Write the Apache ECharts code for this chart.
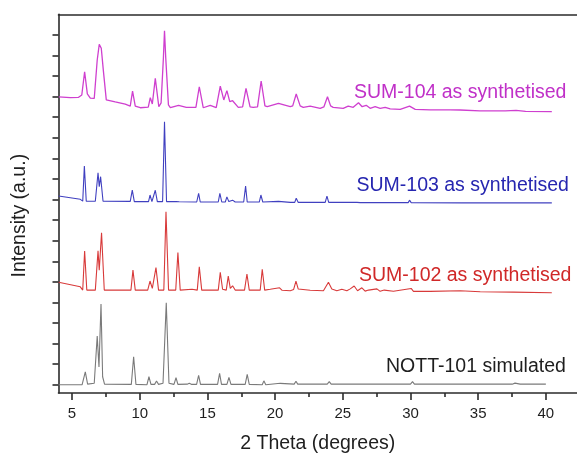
<!DOCTYPE html>
<html>
<head>
<meta charset="utf-8">
<script src="https://cdn.jsdelivr.net/npm/echarts@6/dist/echarts.min.js"></script>
<style>html,body{margin:0;padding:0;background:#fff}#c{width:577px;height:454px}</style>
</head>
<body>
<div id="c"></div>
<script>
// 2θ (degrees), offset intensity (a.u.)
var sum104 = [[4.02,13.99],[4.87,13.95],[5.46,13.96],[5.72,14.08],[5.93,15.21],[6.13,14.13],[6.35,13.93],[6.64,13.91],[6.86,15.78],[7.01,16.54],[7.16,16.35],[7.31,15.29],[7.53,13.84],[8.19,13.74],[8.93,13.64],[9.30,13.54],[9.47,14.27],[9.67,13.54],[10.04,13.46],[10.63,13.49],[10.78,13.95],[10.93,13.64],[11.15,14.89],[11.41,13.51],[11.58,13.7],[11.75,15.9],[11.83,17.20],[11.92,15.9],[12.12,13.6],[12.26,13.47],[12.87,13.58],[13.44,13.48],[14.15,13.48],[14.40,14.48],[14.69,13.46],[15.21,13.58],[15.65,13.47],[15.95,14.51],[16.21,13.84],[16.44,14.29],[16.65,13.76],[16.86,13.80],[17.28,13.48],[17.60,13.5],[17.85,14.40],[18.15,13.5],[18.38,13.48],[18.70,13.5],[18.97,14.76],[19.25,13.55],[19.42,13.51],[20.25,13.67],[21.12,13.51],[21.30,13.55],[21.56,14.13],[21.85,13.55],[22.08,13.48],[22.59,13.54],[23.33,13.43],[23.6,13.5],[23.87,13.99],[24.1,13.55],[24.29,13.48],[25.03,13.43],[25.40,13.54],[25.77,13.48],[26.16,13.70],[26.43,13.51],[26.73,13.58],[27.02,13.43],[27.39,13.51],[27.76,13.43],[28.13,13.48],[28.50,13.40],[29.24,13.38],[29.93,13.54],[30.35,13.38],[31.46,13.36],[32.93,13.36],[33.67,13.35],[35.13,13.31],[37.00,13.31],[37.80,13.33],[38.50,13.28],[40.44,13.27]];
var sum103 = [[4.01,9.17],[5.61,9.01],[5.79,8.92],[5.91,10.63],[6.05,8.92],[6.72,8.92],[6.92,10.30],[7.01,9.62],[7.11,10.11],[7.29,8.92],[9.30,8.91],[9.45,9.46],[9.60,8.90],[10.65,8.90],[10.76,9.22],[10.90,8.90],[11.04,8.90],[11.15,9.45],[11.30,8.90],[11.69,8.90],[11.83,12.78],[11.98,8.90],[12.70,8.90],[12.82,8.97],[12.92,8.89],[14.21,8.88],[14.35,9.30],[14.47,8.88],[15.80,8.88],[15.92,9.30],[16.06,8.88],[16.32,8.88],[16.44,9.13],[16.58,8.90],[16.86,8.97],[17.05,8.88],[17.68,8.88],[17.82,9.65],[17.94,8.88],[18.83,8.88],[18.95,9.22],[19.09,8.88],[20.25,8.91],[21.12,8.86],[21.45,8.86],[21.56,9.06],[21.71,8.86],[23.70,8.86],[23.83,9.17],[23.96,8.86],[26.05,8.86],[26.16,8.95],[26.28,8.85],[29.83,8.85],[29.93,8.97],[30.05,8.85],[33.80,8.84],[40.44,8.84]];
var sum102 = [[4.01,4.98],[5.61,4.76],[5.79,4.60],[5.93,6.50],[6.09,4.60],[6.72,4.60],[6.92,6.51],[7.01,5.57],[7.18,7.39],[7.38,4.60],[9.35,4.60],[9.50,5.57],[9.67,4.60],[10.59,4.60],[10.76,5.04],[10.93,4.68],[11.04,4.60],[11.20,5.69],[11.39,4.60],[11.78,4.60],[11.94,8.41],[12.13,4.60],[12.66,4.60],[12.82,6.43],[12.99,4.60],[13.86,4.64],[14.25,4.60],[14.40,5.73],[14.58,4.60],[15.80,4.60],[15.95,5.46],[16.12,4.64],[16.39,4.60],[16.54,5.28],[16.69,4.68],[16.86,4.81],[17.05,4.60],[17.74,4.60],[17.92,5.38],[18.09,4.60],[18.90,4.60],[19.05,5.61],[19.23,4.60],[19.64,4.64],[20.33,4.71],[20.52,4.59],[21.12,4.57],[21.37,4.63],[21.54,5.04],[21.71,4.65],[22.59,4.59],[23.57,4.57],[23.94,4.98],[24.19,4.65],[24.56,4.57],[24.93,4.64],[25.30,4.57],[25.55,4.66],[25.84,4.80],[26.09,4.57],[26.41,4.71],[26.65,4.55],[26.90,4.60],[27.52,4.66],[27.76,4.54],[28.06,4.60],[28.74,4.54],[30.05,4.68],[30.22,4.54],[31.45,4.54],[33.67,4.57],[35.15,4.52],[37.58,4.50],[40.44,4.47]];
var nott101 = [[4.01,0.0],[5.74,0.0],[5.98,0.63],[6.15,0.03],[6.64,0.07],[6.86,2.37],[6.99,0.87],[7.14,3.92],[7.26,0.39],[7.40,0.03],[9.38,0.02],[9.55,1.36],[9.72,0.02],[10.53,0.0],[10.68,0.39],[10.83,0.02],[11.10,0.02],[11.24,0.18],[11.39,0.02],[11.72,0.07],[11.96,3.98],[12.16,0.07],[12.53,0.02],[12.68,0.34],[12.82,0.02],[13.51,0.03],[13.66,0.07],[13.81,0.02],[14.20,0.02],[14.35,0.46],[14.49,0.02],[15.75,0.02],[15.90,0.55],[16.04,0.02],[16.44,0.02],[16.59,0.36],[16.74,0.02],[17.79,0.02],[17.94,0.50],[18.09,0.02],[19.05,0.0],[19.17,0.19],[19.31,0.0],[20.38,0.07],[21.41,0.03],[21.54,0.17],[21.67,0.03],[23.85,0.03],[24.00,0.15],[24.14,0.03],[30.00,0.03],[30.15,0.15],[30.29,0.03],[33.30,0.03],[33.42,0.10],[33.57,0.03],[37.51,0.03],[37.72,0.08],[38.10,0.03],[40.00,0.03]];

var seriesNames = ['SUM-104 as synthetised','SUM-103 as synthetised','SUM-102 as synthetised','NOTT-101 simulated'];
var xMajorTicks = [5,10,15,20,25,30,35,40];
var xMinorTicks = [7.5,12.5,17.5,22.5,27.5,32.5,37.5];
var yTicks = [0,1,2,3,4,5,6,7,8,9,10,11,12,13,14,15,16,17];

var FONT = 'Liberation Sans, Arial, sans-serif';
var axisColor = '#2b2b2b';
var chart = echarts.init(document.getElementById('c'), null, {renderer:'canvas'});
var lineColors = ['#cf3fcf','#4040c0','#d83a3a','#7a7a7a'];
var textColors = ['#c030c8','#2626b0','#d02828','#1e1e1e'];
var labelPos = [[354,92.2],[356.5,185.7],[359,275.8],[386,366.3]];

chart.setOption({
  animation:false,
  grid:{left:58.5,right:0,top:14.3,bottom:61,containLabel:false,outerBoundsMode:'none'},
  xAxis:[{
    type:'value',min:4,max:42.3,position:'bottom',
    name:'2 Theta (degrees)',nameLocation:'middle',nameGap:41,
    nameTextStyle:{fontFamily:FONT,fontSize:19.5,color:'#1e1e1e'},
    axisLine:{show:true,onZero:false,lineStyle:{color:axisColor,width:1.6}},
    axisTick:{show:true,inside:false,length:7,customValues:xMajorTicks,lineStyle:{color:axisColor,width:1.6}},
    axisLabel:{customValues:xMajorTicks,fontFamily:FONT,fontSize:15,color:'#1e1e1e',margin:13},
    splitLine:{show:false}
  },{
    type:'value',min:4,max:42.3,position:'bottom',
    axisLine:{show:false,onZero:false},
    axisTick:{show:true,inside:false,length:4,customValues:xMinorTicks,lineStyle:{color:axisColor,width:1.6}},
    axisLabel:{show:false},splitLine:{show:false}
  },{
    type:'value',min:4,max:42.3,position:'top',
    axisLine:{show:true,onZero:false,lineStyle:{color:axisColor,width:1.6}},
    axisTick:{show:false},axisLabel:{show:false},splitLine:{show:false}
  }],
  yAxis:{
    type:'value',min:-0.4,max:18,
    name:'Intensity (a.u.)',nameLocation:'middle',nameGap:29,nameRotate:90,
    nameTextStyle:{fontFamily:FONT,fontSize:19.5,color:'#1e1e1e',padding:[0,24,0,0]},
    axisLine:{show:true,onZero:false,lineStyle:{color:axisColor,width:1.6}},
    axisTick:{show:true,inside:false,length:6,customValues:yTicks,lineStyle:{color:axisColor,width:1.6}},
    axisLabel:{show:false},splitLine:{show:false}
  },
  series:[sum104,sum103,sum102,nott101].map(function(d,i){
    return {name:seriesNames[i],type:'line',data:d,xAxisIndex:0,showSymbol:false,symbol:'none',
      lineStyle:{color:lineColors[i],width:i===0?1.3:1.1},smooth:false};
  }),
  graphic:seriesNames.map(function(n,i){
    return {type:'text',x:labelPos[i][0],y:labelPos[i][1],silent:true,
      style:{text:n,fill:textColors[i],font:'19.5px '+FONT,textVerticalAlign:'middle',verticalAlign:'middle'}};
  })
});
</script>
</body>
</html>
